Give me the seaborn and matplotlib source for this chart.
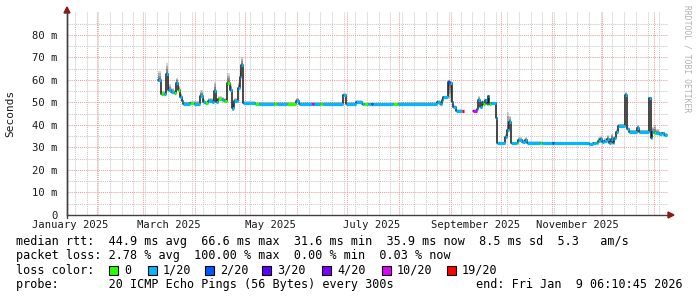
import numpy as np
import pandas as pd
import matplotlib
matplotlib.use("Agg")
import matplotlib.pyplot as plt
import matplotlib.dates as mdates
from matplotlib.patches import Rectangle, Polygon
from matplotlib.lines import Line2D
import seaborn as sns

# ---------------- data ----------------
LOSS_LEVELS = ["0", "1/20", "2/20", "3/20", "4/20", "10/20", "19/20"]
LOSS_COLORS = ["#26ff00", "#00b8ff", "#0059ff", "#5e00ff", "#7e00ff", "#dd00ff", "#ff0000"]

# time of each sample in days since 2025-01-01 00:00
day_offset = [
    67.78, 69.58, 71.08, 72.40, 73.95, 75.27, 77.37, 78.57, 79.94, 80.96,
    81.98, 82.94, 86.95, 89.05, 92.95, 94.74, 95.94, 97.92, 99.96, 101.34,
    102.35, 103.91, 105.95, 107.50, 108.94, 110.92, 112.30, 113.32, 115.71, 116.91,
    117.69, 118.89, 125.90, 128.30, 137.29, 139.08, 145.07, 150.47, 152.26, 160.05,
    161.25, 164.84, 166.64, 178.63, 180.12, 186.41, 190.01, 190.91, 193.60, 195.40,
    196.60, 208.59, 211.58, 234.95, 236.74, 237.76, 238.72, 241.72, 242.74, 243.75,
    244.53, 246.15, 250.10, 250.82,
    256.70, 258.73, 259.69, 260.71, 261.73, 262.69, 263.70, 264.90, 265.68, 266.28,
    267.30, 270.30, 271.08, 275.69, 277.07, 278.27, 279.11, 282.70, 283.66, 285.69,
    287.68, 288.87, 296.66, 297.86, 303.67, 304.75, 326.02, 328.42, 329.92, 330.81,
    331.59, 332.61, 333.99, 335.19, 336.63, 338.18, 339.20, 340.22, 341.18, 342.19,
    343.21, 347.77, 348.96, 350.16, 354.60, 355.79, 361.97, 363.17, 363.95, 364.97,
    366.16, 367.96, 369.76, 371.14, 372.46,
]
# median round trip time (ms); NaN marks the data gap
median_ms = [
    59.9, 53.6, 53.6, 62.5, 55.6, 54.8, 54.1, 58.6, 55.6, 52.6,
    50.7, 49.3, 49.6, 49.3, 53.0, 50.0, 49.6, 50.7, 50.4, 55.0,
    50.4, 51.4, 51.1, 50.8, 58.5, 55.6, 47.4, 50.7, 56.5, 61.5,
    66.6, 49.6, 49.3, 49.3, 49.3, 49.3, 49.3, 50.8, 49.3, 49.3,
    49.3, 49.3, 49.3, 53.3, 49.3, 50.4, 49.2, 49.2, 49.2, 49.2,
    49.2, 49.2, 49.2, 50.4, 49.2, 51.1, 52.3, 59.3, 58.5, 50.4,
    48.1, 46.4, 46.4, np.nan,
    46.4, 47.0, 51.1, 48.1, 50.4, 49.2, 51.1, 49.3, 52.9, 49.2,
    49.6, 43.0, 31.9, 34.5, 37.8, 41.5, 31.9, 31.9, 33.3, 32.6,
    33.3, 32.1, 32.1, 32.1, 32.1, 32.1, 31.4, 31.9, 31.9, 31.9,
    32.9, 33.8, 32.6, 33.0, 33.8, 32.1, 33.9, 31.9, 34.1, 36.7,
    39.7, 53.3, 38.1, 37.0, 38.8, 37.0, 51.9, 34.1, 37.0, 36.3,
    36.6, 35.9, 36.3, 35.6, 35.6,
]
# packet loss level (index into LOSS_LEVELS)
loss_level = [
    1, 0, 1, 1, 1, 1, 0, 1, 0, 1,
    1, 1, 0, 1, 1, 1, 0, 1, 1, 1,
    1, 0, 1, 0, 0, 1, 1, 1, 1, 1,
    1, 1, 0, 1, 0, 1, 0, 1, 1, 5,
    1, 0, 1, 1, 1, 1, 1, 0, 1, 2,
    1, 0, 1, 1, 1, 1, 1, 2, 1, 1,
    1, 1, 6, 1,
    5, 1, 1, 1, 1, 0, 1, 1, 1, 0,
    1, 1, 1, 1, 1, 1, 1, 0, 1, 1,
    1, 1, 0, 1, 2, 1, 1, 1, 0, 1,
    1, 1, 1, 1, 1, 1, 1, 1, 1, 1,
    1, 1, 1, 1, 1, 1, 1, 1, 1, 0,
    1, 1, 1, 1, 1,
]
# smoke extent above / below the median (ms)
smoke_up = [
    4.1, 1.4, 1.4, 5.0, 2.4, 1.7, 1.4, 2.4, 1.9, 1.4,
    1.3, 1.0, 0.9, 1.2, 2.5, 1.5, 0.9, 1.3, 1.6, 4.0,
    1.6, 1.6, 1.4, 1.2, 4.5, 2.4, 2.6, 1.3, 2.5, 3.5,
    3.4, 0.9, 0.7, 0.7, 0.7, 0.9, 0.7, 1.2, 0.7, 0.7,
    0.7, 0.7, 0.7, 0.7, 0.7, 0.6, 0.6, 0.6, 0.6, 0.6,
    0.6, 0.6, 0.8, 0.6, 0.6, 0.9, 0.7, 0.7, 0.5, 0.6,
    0.6, 0.6, 0.6, 0.0,
    0.6, 0.6, 1.9, 0.9, 0.6, 0.6, 0.6, 0.6, 0.6, 0.6,
    0.6, 1.0, 0.5, 1.5, 8.1, 2.5, 0.6, 0.6, 1.2, 0.9,
    1.2, 0.6, 0.6, 0.5, 0.5, 0.5, 0.5, 0.5, 0.5, 0.5,
    1.6, 1.2, 0.8, 1.0, 1.7, 0.8, 2.1, 0.8, 0.9, 1.3,
    0.8, 1.5, 0.8, 0.8, 1.2, 0.8, 0.7, 1.0, 2.0, 3.6,
    1.4, 1.1, 0.7, 0.9, 0.9,
]
smoke_dn = [
    0.9, 0.4, 0.4, 1.0, 0.6, 0.5, 0.4, 0.8, 0.6, 0.6,
    0.5, 0.3, 0.4, 0.3, 0.8, 0.4, 0.4, 0.5, 0.4, 1.0,
    0.4, 0.4, 0.5, 0.4, 1.0, 0.6, 1.4, 0.5, 0.7, 1.0,
    1.1, 0.4, 0.3, 0.3, 0.3, 0.3, 0.3, 0.4, 0.3, 0.3,
    0.3, 0.3, 0.3, 0.5, 0.3, 0.4, 0.3, 0.3, 0.3, 0.3,
    0.3, 0.3, 0.3, 0.4, 0.3, 0.5, 0.5, 7.3, 8.5, 1.4,
    0.4, 0.3, 0.3, 0.0,
    0.3, 0.3, 0.6, 0.4, 0.4, 0.3, 0.5, 0.3, 0.5, 0.3,
    0.3, 1.0, 0.3, 0.5, 0.8, 0.8, 0.3, 0.3, 0.4, 0.3,
    0.4, 0.3, 0.3, 0.3, 0.3, 0.3, 0.3, 0.3, 0.3, 0.3,
    0.4, 0.4, 0.3, 0.3, 0.4, 0.3, 0.4, 0.3, 0.4, 0.6,
    0.5, 1.0, 0.5, 0.3, 0.4, 0.3, 1.0, 0.5, 0.6, 0.5,
    0.4, 0.4, 0.4, 0.4, 0.4,
]
segment_id = [0] * 64 + [1] * 55

X_START = "2025-01-14 06:10"
X_END = "2026-01-09 06:10"
month_labels = ["January 2025", "March 2025", "May 2025", "July 2025",
                "September 2025", "November 2025"]
month_label_dates = ["2025-01-16", "2025-03-16", "2025-05-16", "2025-07-16",
                     "2025-09-16", "2025-11-16"]
y_ticks = [0, 10, 20, 30, 40, 50, 60, 70, 80]
y_tick_labels = ["0", "10 m", "20 m", "30 m", "40 m", "50 m", "60 m", "70 m", "80 m"]

legend_rtt = "median rtt:  44.9 ms avg  66.6 ms max  31.6 ms min  35.9 ms now  8.5 ms sd  5.3   am/s"
legend_loss = "packet loss: 2.78 % avg  100.00 % max  0.00 % min  0.03 % now"
legend_probe = "probe:       20 ICMP Echo Pings (56 Bytes) every 300s"
legend_end = "end: Fri Jan  9 06:10:45 2026"

# ---------------- figure ----------------
sns.set_style("white")
plt.rcParams["font.family"] = ["DejaVu Sans Mono", "DejaVu Sans"]

W, H = 697, 297
fig = plt.figure(figsize=(W / 100, H / 100), dpi=100)
fig.patch.set_facecolor("white")
L, R, T, B = 67, 668, 12, 215
ax = fig.add_axes([L / W, 1 - B / H, (R - L) / W, (B - T) / H])
ax.set_facecolor("white")

df = pd.DataFrame({
    "t": pd.Timestamp("2025-01-01") + pd.to_timedelta(day_offset, unit="D"),
    "med": np.array(median_ms, float),
    "loss": loss_level,
    "up": smoke_up,
    "dn": smoke_dn,
    "seg": segment_id,
})
tn = mdates.date2num(df["t"])
med = df["med"].to_numpy()
hi = med + df["up"].to_numpy()
lo = med - df["dn"].to_numpy()

# smoke
for k, a in [(1.0, 0.22), (0.75, 0.25), (0.5, 0.3), (0.25, 0.35)]:
    ax.fill_between(tn, med, med + (hi - med) * k, step="post", color="#404040",
                    alpha=a, lw=0)
    ax.fill_between(tn, med - (med - lo) * k, med, step="post", color="#404040",
                    alpha=a, lw=0)

# median (black step line)
df["tn"] = tn
sns.lineplot(data=df.dropna(subset=["med"]), x="tn", y="med", units="seg",
             estimator=None, color="#181818", lw=1.1, drawstyle="steps-post",
             ax=ax, legend=False)

# coloured median segments by loss
valid = ~np.isnan(med[:-1])
ax.hlines(med[:-1][valid], tn[:-1][valid], tn[1:][valid],
          colors=[LOSS_COLORS[l] for l in np.array(loss_level[:-1])[valid]],
          lw=2.3, zorder=4)

# axes ranges
x0 = mdates.date2num(pd.Timestamp(X_START))
x1 = mdates.date2num(pd.Timestamp(X_END))
ax.set_xlim(x0, x1)
ax.set_ylim(0, 90.2)
ax.set_xlabel("")
ax.set_ylabel("")

# grid
ax.xaxis.set_major_locator(mdates.MonthLocator())
ax.xaxis.set_minor_locator(mdates.WeekdayLocator(byweekday=mdates.SU))
ax.set_yticks(y_ticks)
ax.set_yticks([5, 15, 25, 35, 45, 55, 65, 75, 85], minor=True)
ax.grid(which="minor", color="#c8c8c8", ls=(0, (1, 1)), lw=0.75, zorder=0)
ax.grid(which="major", color="#e8a0a0", ls=(0, (1, 1)), lw=0.75, zorder=0)
ax.set_axisbelow(True)
ax.set_xticklabels([])
ax.set_yticklabels(y_tick_labels, fontsize=7.6, color="#1a1a1a")
ax.tick_params(which="both", length=0, pad=7)
ax.tick_params(axis="x", pad=0)

for s in ["top", "right"]:
    ax.spines[s].set_visible(False)
for s in ["left", "bottom"]:
    ax.spines[s].set_color("#404040")
    ax.spines[s].set_linewidth(1.0)

# month labels
xt = ax.get_xaxis_transform()
for lab, d in zip(month_labels, month_label_dates):
    ax.text(mdates.date2num(pd.Timestamp(d)), -(225 - 215) / (B - T), lab,
            transform=xt, ha="center", va="center", fontsize=7.6, color="#1a1a1a",
            clip_on=False)

# arrows
fx = lambda px: px / W
fy = lambda py: 1 - py / H
fig.add_artist(Line2D([fx(L), fx(L)], [fy(B + 3), fy(12)], color="#404040", lw=1.0,
                      transform=fig.transFigure))
fig.add_artist(Polygon([[fx(L - 3), fy(13)], [fx(L + 3), fy(13)], [fx(L), fy(7)]],
                       closed=True, color="#8b1a1a", transform=fig.transFigure))
fig.add_artist(Polygon([[fx(668), fy(212)], [fx(668), fy(218)], [fx(674), fy(215)]],
                       closed=True, color="#8b1a1a", transform=fig.transFigure))

# y label and watermark
fig.text(fx(10.5), fy(113), "Seconds", rotation=90, ha="center", va="center",
         fontsize=8, color="#1a1a1a")
fig.text(fx(687.5), fy(5), "RRDTOOL / TOBI OETIKER", rotation=270, ha="center",
         va="top", fontsize=5.8, color="#b0b0b0")

# legend
LF = 8.5
fig.text(fx(16), fy(241), legend_rtt, ha="left", va="center", fontsize=LF, color="black")
fig.text(fx(16), fy(255.5), legend_loss, ha="left", va="center", fontsize=LF, color="black")
fig.text(fx(16), fy(270), "loss color:", ha="left", va="center", fontsize=LF, color="black")
box_x = [109, 148, 205, 262, 322, 382, 447]
for bx, lab, col in zip(box_x, LOSS_LEVELS, LOSS_COLORS):
    fig.add_artist(Rectangle((fx(bx), fy(274.5)), 9 / W, 9 / H, facecolor=col,
                             edgecolor="black", lw=0.8, transform=fig.transFigure))
    fig.text(fx(bx + 15), fy(270), lab, ha="left", va="center", fontsize=LF, color="black")
fig.text(fx(16), fy(284.5), legend_probe, ha="left", va="center", fontsize=LF, color="black")
fig.text(fx(683), fy(284.5), legend_end, ha="right", va="center", fontsize=LF, color="black")

fig.savefig("out.png", dpi=100, facecolor="white")
